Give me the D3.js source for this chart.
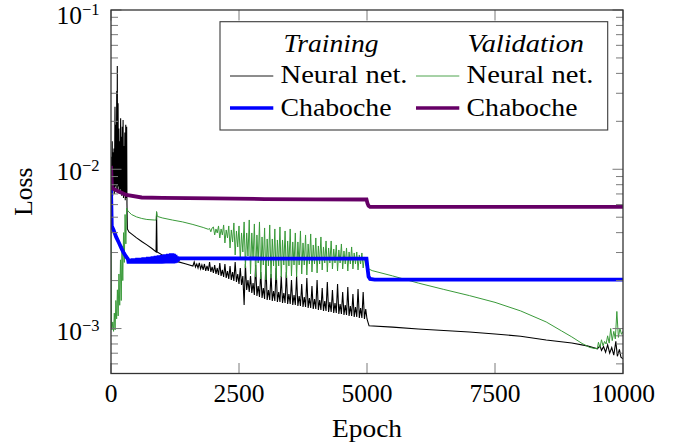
<!DOCTYPE html>
<html>
<head>
<meta charset="utf-8">
<script src="https://cdn.jsdelivr.net/npm/d3@7"></script>
<style>
  body { margin: 0; background: #fff; }
  svg text { font-family: "Liberation Serif", "Times New Roman", serif; fill: #000; }
</style>
</head>
<body>
<svg id="chart" width="689" height="448" font-family="Liberation Serif, serif"></svg>
<script>
// Axis ticks
const xTickValues = [0, 2500, 5000, 7500, 10000];
const yDecadeExponents = [-3, -2, -1];

// ---- Training loss, neural network ----
// early epochs  [epoch, loss]
const trainNNStart = [
  [0, 0.0095], [8, 0.0120], [16, 0.0072], [24, 0.0150], [32, 0.0068], [42, 0.0128],
  [50, 0.0075], [58, 0.0135], [66, 0.0070], [78, 0.0247], [86, 0.0078], [94, 0.0190],
  [102, 0.0072], [112, 0.0310], [118, 0.0080], [123, 0.0445], [130, 0.0074], [138, 0.0260],
  [146, 0.0078], [154, 0.0180], [162, 0.0070], [170, 0.0150], [178, 0.0075], [188, 0.0209],
  [196, 0.0070], [204, 0.0160], [212, 0.0068], [220, 0.0185], [228, 0.0072], [236, 0.0204],
  [244, 0.0066], [252, 0.0140], [262, 0.0070], [270, 0.0170], [278, 0.0064], [288, 0.0190],
  [296, 0.0066], [306, 0.0185], [312, 0.0060], [320, 0.00422], [350, 0.00404], [400, 0.00393],
  [500, 0.00371], [600, 0.00352], [700, 0.00335], [800, 0.00318], [880, 0.00303], [890, 0.00542],
  [900, 0.00303], [1000, 0.00290], [1100, 0.00277], [1200, 0.00270], [1300, 0.00263], [1450, 0.00255]
];
// oscillating phase, one sample every 25 epochs from epoch 1600
const trainNNOsc = { start: 1600, step: 25, loss: [
  0.002471, 0.002618, 0.002435, 0.002543,  0.002400, 0.002580, 0.002366, 0.002507,
  0.002332, 0.002543, 0.002298, 0.002471,  0.002298, 0.002618, 0.002265, 0.002435,
  0.002233, 0.002507, 0.002201, 0.002400,  0.002169, 0.002580, 0.002138, 0.002332,
  0.002107, 0.002543, 0.002077, 0.002298,  0.002047, 0.002471, 0.002018, 0.002265,
  0.001989, 0.002618, 0.001960, 0.002201,  0.001904, 0.002400, 0.001877, 0.002138,
  0.001406, 0.002543, 0.001746, 0.002018,  0.001696, 0.002138, 0.001672, 0.001932,
  0.001624, 0.002507, 0.001601, 0.001850,  0.001578, 0.002265, 0.001555, 0.001797,
  0.001533, 0.002543, 0.001511, 0.001746,  0.001511, 0.002201, 0.001489, 0.001721,
  0.001489, 0.002400, 0.001468, 0.001696,  0.001468, 0.002138, 0.001447, 0.001672,
  0.001447, 0.002265, 0.001426, 0.001648,  0.001426, 0.002018, 0.001406, 0.001624,
  0.001406, 0.002138, 0.001385, 0.001601,  0.001385, 0.001904, 0.001366, 0.001578,
  0.001366, 0.002077, 0.001346, 0.001555,  0.001346, 0.001850, 0.001327, 0.001533,
  0.001327, 0.002018, 0.001308, 0.001511,  0.001308, 0.001797, 0.001289, 0.001489,
  0.001289, 0.001960, 0.001270, 0.001468,  0.001270, 0.001746, 0.001252, 0.001447,
  0.001252, 0.001904, 0.001234, 0.001426,  0.001234, 0.001696, 0.001216, 0.001406,
  0.001216, 0.001823, 0.001199, 0.001385,  0.001199, 0.001648, 0.001182, 0.001366,
  0.001182, 0.001771, 0.001165, 0.001346,  0.001165, 0.001696, 0.001148, 0.001327
]};
const trainNNEnd = [
  [5000, 0.001148], [5040, 0.00104], [5500, 0.00102], [6000, 0.000994], [6500, 0.000973],
  [7000, 0.000952], [7500, 0.000925], [8000, 0.000895], [8500, 0.000848], [9000, 0.000812],
  [9300, 0.000778], [9500, 0.000745], [9550, 0.00078], [9580, 0.00073], [9620, 0.00077],
  [9660, 0.00071], [9700, 0.00079], [9740, 0.00070], [9780, 0.00076], [9820, 0.00068],
  [9860, 0.00083], [9890, 0.00067], [9930, 0.00074], [9960, 0.00066], [10000, 0.000645]
];

// ---- Training loss, Chaboche model ----
const trainChabocheStart = [
  [0, 0.0077], [15, 0.0044], [50, 0.00416], [100, 0.00376], [150, 0.00348], [200, 0.00321],
  [250, 0.00298], [300, 0.00281]
];
const trainChabocheOsc = { start: 330, step: 15, loss: [
  0.002734, 0.002562, 0.002734, 0.002562, 0.002734, 0.002562, 0.002754, 0.002562,
  0.002754, 0.002562, 0.002754, 0.002562, 0.002774, 0.002562, 0.002774, 0.002562,
  0.002774, 0.002562, 0.002774, 0.002562, 0.002794, 0.002562, 0.002794, 0.002562,
  0.002794, 0.002562, 0.002814, 0.002562, 0.002814, 0.002562, 0.002814, 0.002562,
  0.002835, 0.002562, 0.002835, 0.002562, 0.002855, 0.002562, 0.002855, 0.002562,
  0.002876, 0.002562, 0.002876, 0.002562, 0.002897, 0.002562, 0.002897, 0.002562,
  0.002918, 0.002562, 0.002918, 0.002562, 0.002939, 0.002562, 0.002939, 0.002562,
  0.002960, 0.002562, 0.002960, 0.002562, 0.002939, 0.002580, 0.002897, 0.002599,
  0.002835, 0.002656, 0.002760
]};
const trainChabocheEnd = [
  [1350, 0.00276], [2000, 0.00276], [3000, 0.00275], [4000, 0.00275], [4990, 0.00275],
  [5010, 0.00240], [5030, 0.00212], [5060, 0.00205], [5150, 0.00203], [10000, 0.00203]
];

// ---- Validation loss, neural network ----
const validNNStart = [
  [0, 0.0045], [10, 0.0010], [20, 0.00098], [35, 0.00110], [50, 0.00096], [65, 0.00125],
  [80, 0.00098], [95, 0.00150], [110, 0.00115], [125, 0.00175], [140, 0.00120], [155, 0.00220],
  [170, 0.00140], [185, 0.00270], [200, 0.00150], [215, 0.00330], [230, 0.00200], [245, 0.00400],
  [260, 0.00260], [275, 0.00520], [290, 0.00340], [305, 0.00570], [330, 0.00547], [400, 0.00520],
  [500, 0.00502], [600, 0.00491], [700, 0.00484], [850, 0.00480], [880, 0.00480], [890, 0.00542],
  [905, 0.00506], [1000, 0.00495], [1200, 0.00480], [1400, 0.00467], [1600, 0.00450], [1800, 0.00431],
  [1900, 0.00420], [1925, 0.00425], [1950, 0.00405], [1975, 0.00428]
];
const validNNOsc = { start: 2000, step: 25, loss: [
  0.004343, 0.003868, 0.004219, 0.003982,  0.004406, 0.003704, 0.004219, 0.003868,
  0.004470, 0.003446, 0.004158, 0.003704,  0.004406, 0.003205, 0.004158, 0.003496,
  0.004601, 0.002897, 0.004099, 0.003252,  0.004406, 0.002695, 0.003982, 0.003025,
  0.004668, 0.002400, 0.003982, 0.002855,  0.004805, 0.002201, 0.003982, 0.002695,
  0.004535, 0.002107, 0.003868, 0.002580,  0.004668, 0.002047, 0.003758, 0.002507,
  0.004280, 0.002018, 0.003651, 0.002471,  0.004470, 0.002077, 0.003651, 0.002471,
  0.004219, 0.002018, 0.003598, 0.002471,  0.004343, 0.002107, 0.003598, 0.002507,
  0.004099, 0.002077, 0.003547, 0.002471,  0.004219, 0.002138, 0.003496, 0.002507,
  0.003982, 0.002107, 0.003496, 0.002507,  0.004099, 0.002201, 0.003446, 0.002507,
  0.003868, 0.002169, 0.003396, 0.002543,  0.003925, 0.002265, 0.003347, 0.002543,
  0.003704, 0.002233, 0.003299, 0.002543,  0.003758, 0.002332, 0.003252, 0.002580,
  0.003547, 0.002265, 0.003205, 0.002580,  0.003547, 0.002366, 0.003159, 0.002580,
  0.003347, 0.002298, 0.003114, 0.002580,  0.003396, 0.002366, 0.003069, 0.002543,
  0.003205, 0.002298, 0.003025, 0.002543,  0.003252, 0.002366, 0.002982, 0.002543,
  0.003025, 0.002332, 0.002897, 0.002543,  0.002982, 0.002400, 0.002814, 0.002507
]};
const validNNEnd = [
  [5000, 0.00240], [5100, 0.00231], [5500, 0.00214], [6000, 0.00193], [6500, 0.00176],
  [7000, 0.00161], [7500, 0.00146], [8000, 0.00129], [8500, 0.00110], [8800, 0.000966],
  [9000, 0.000886], [9200, 0.000806], [9350, 0.000761], [9450, 0.00075], [9500, 0.00075],
  [9520, 0.00082], [9550, 0.00076], [9580, 0.00085], [9610, 0.00078], [9640, 0.00083],
  [9670, 0.00080], [9700, 0.00090], [9730, 0.00081], [9760, 0.00100], [9790, 0.00084],
  [9820, 0.00096], [9850, 0.00086], [9880, 0.00128], [9910, 0.00088], [9940, 0.00100],
  [9970, 0.00092], [10000, 0.00096]
];

// ---- Validation loss, Chaboche model ----
const validChaboche = [
  [0, 0.0105], [20, 0.0076], [150, 0.00726], [300, 0.0069], [600, 0.00665], [1000, 0.00662],
  [2000, 0.00656], [3000, 0.00650], [4000, 0.00648], [4990, 0.00646], [5010, 0.00610],
  [5030, 0.00590], [5060, 0.00580], [10000, 0.00580]
];

// uniformly sampled block -> [epoch, loss] pairs
const sampled = b => b.loss.map((v, i) => [b.start + i * b.step, v]);

const series = [
  { data: [...trainNNStart, ...sampled(trainNNOsc), ...trainNNEnd], color: "#000000", width: 1.1 },
  { data: [...validNNStart, ...sampled(validNNOsc), ...validNNEnd], color: "#3a9a3a", width: 1.0 },
  { data: [...trainChabocheStart, ...sampled(trainChabocheOsc), ...trainChabocheEnd], color: "#0000ff", width: 3.8 },
  { data: validChaboche, color: "#660066", width: 3.8 }
];

const svg = d3.select("#chart");
const plot = { left: 111, right: 623, top: 10, bottom: 373.5 };
const FONT = "Liberation Serif, Times New Roman, serif";

const x = d3.scaleLinear().domain([0, 10000]).range([plot.left, plot.right]);
const y = d3.scaleLog().domain([5.22e-4, 0.1]).range([plot.bottom, plot.top]);

svg.append("defs").append("clipPath").attr("id", "plotClip")
  .append("rect")
  .attr("x", plot.left).attr("y", plot.top)
  .attr("width", plot.right - plot.left).attr("height", plot.bottom - plot.top);

// Curves
const line = d3.line().x(d => x(d[0])).y(d => y(d[1]));
const curves = svg.append("g").attr("clip-path", "url(#plotClip)");
series.forEach(s => {
  curves.append("path")
    .attr("d", line(s.data))
    .attr("fill", "none")
    .attr("stroke", s.color)
    .attr("stroke-width", s.width);
});

// Tick marks (inward, mirrored on opposite sides)
const ticks = svg.append("g").attr("stroke", "#7a7a7a").attr("stroke-width", 1);
xTickValues.forEach(v => {
  const px = x(v);
  ticks.append("line").attr("x1", px).attr("x2", px).attr("y1", plot.bottom).attr("y2", plot.bottom - 10.5);
  ticks.append("line").attr("x1", px).attr("x2", px).attr("y1", plot.top).attr("y2", plot.top + 10.5);
});
y.ticks().forEach(v => {
  const isMajor = Math.abs(Math.log10(v) - Math.round(Math.log10(v))) < 1e-9;
  const len = isMajor ? 10.5 : 7;
  const py = y(v);
  if (py < plot.top - 0.5 || py > plot.bottom + 0.5) return;
  ticks.append("line").attr("x1", plot.left).attr("x2", plot.left + len).attr("y1", py).attr("y2", py);
  ticks.append("line").attr("x1", plot.right).attr("x2", plot.right - len).attr("y1", py).attr("y2", py);
});

// Frame
svg.append("rect")
  .attr("x", plot.left).attr("y", plot.top)
  .attr("width", plot.right - plot.left).attr("height", plot.bottom - plot.top)
  .attr("fill", "none").attr("stroke", "#333").attr("stroke-width", 1.3);

// X tick labels
svg.append("g").selectAll("text").data(xTickValues).join("text")
  .attr("x", d => x(d)).attr("y", 401.5)
  .attr("font-family", FONT)
  .attr("text-anchor", "middle").attr("font-size", 25.5)
  .text(d => d);

// Y tick labels: 10^k (the topmost one is nudged down to stay inside the canvas)
const yLab = svg.append("g").selectAll("text").data(yDecadeExponents).join("text")
  .attr("x", 99.5)
  .attr("y", d => Math.max(y(Math.pow(10, d)) + 11, 24))
  .attr("font-family", FONT)
  .attr("text-anchor", "end").attr("font-size", 25.5);
yLab.append("tspan").text("10");
yLab.append("tspan").attr("dy", -9).attr("font-size", 16.5).text(d => "\u2212" + Math.abs(d));

// Axis titles
svg.append("text").attr("x", (plot.left + plot.right) / 2).attr("y", 437)
  .attr("font-family", FONT)
  .attr("text-anchor", "middle").attr("font-size", 25.5)
  .attr("textLength", 70).attr("lengthAdjust", "spacingAndGlyphs")
  .text("Epoch");
svg.append("text")
  .attr("transform", `translate(31.5, ${(plot.top + plot.bottom) / 2}) rotate(-90)`)
  .attr("font-family", FONT)
  .attr("text-anchor", "middle").attr("font-size", 25.5)
  .text("Loss");

// Legend
const legend = svg.append("g");
legend.append("rect")
  .attr("x", 220).attr("y", 21.7).attr("width", 387.7).attr("height", 108.3)
  .attr("fill", "#fff").attr("stroke", "#3a3a3a").attr("stroke-width", 1.1);

const legendHeads = [
  { text: "Training", x: 283.5, w: 95 },
  { text: "Validation", x: 467.5, w: 116.5 }
];
legendHeads.forEach(h => {
  legend.append("text").attr("x", h.x).attr("y", 51.5)
    .attr("font-family", FONT)
    .attr("font-size", 25.5).attr("font-style", "italic")
    .attr("textLength", h.w).attr("lengthAdjust", "spacingAndGlyphs")
    .text(h.text);
});

const legendEntries = [
  { s: series[0], label: "Neural net.", col: 0, row: 0, w: 127 },
  { s: series[2], label: "Chaboche", col: 0, row: 1, w: 111 },
  { s: series[1], label: "Neural net.", col: 1, row: 0, w: 127 },
  { s: series[3], label: "Chaboche", col: 1, row: 1, w: 111 }
];
const colX = [230, 416];
const rowY = [76, 108];
const textBase = [82.7, 116];
legendEntries.forEach(e => {
  const x0 = colX[e.col];
  legend.append("line")
    .attr("x1", x0).attr("x2", x0 + 43.3)
    .attr("y1", rowY[e.row]).attr("y2", rowY[e.row])
    .attr("stroke", e.s.color)
    .attr("stroke-width", e.s.width > 2 ? 3.5 : 0.9);
  legend.append("text")
    .attr("x", x0 + 50.5).attr("y", textBase[e.row])
    .attr("font-family", FONT)
    .attr("font-size", 25.5)
    .attr("textLength", e.w).attr("lengthAdjust", "spacingAndGlyphs")
    .text(e.label);
});
</script>
</body>
</html>
